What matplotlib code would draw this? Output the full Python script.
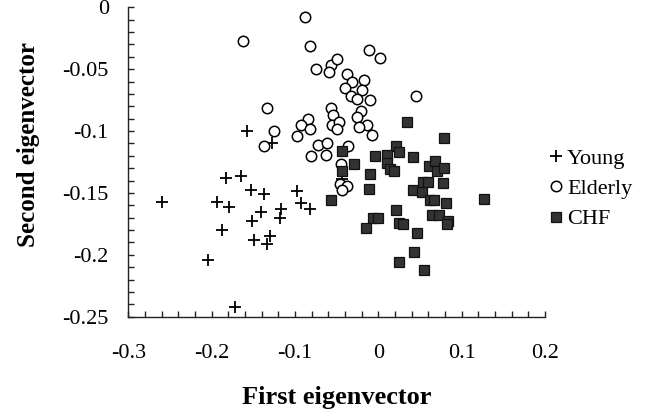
import numpy as np
import matplotlib.pyplot as plt
from matplotlib.ticker import MultipleLocator

plt.rcParams['font.family'] = ['Liberation Serif', 'DejaVu Serif']
plt.rcParams['axes.unicode_minus'] = False

# Young (plus)
young_x = [-0.158, -0.128, -0.043, -0.2596, -0.183, -0.165, -0.153, -0.137, -0.098, -0.194,
           -0.179, -0.093, -0.082, -0.117, -0.141, -0.118, -0.152, -0.1876, -0.130, -0.1495,
           -0.133, -0.204, -0.1716]
young_y = [-0.100, -0.110, -0.1385, -0.157, -0.138, -0.1366, -0.148, -0.151, -0.1487, -0.157,
           -0.161, -0.158, -0.163, -0.163, -0.165, -0.170, -0.173, -0.180, -0.1845, -0.188,
           -0.191, -0.204, -0.242]

# Elderly (open circles)
elderly_x = [-0.088, -0.162, -0.082, -0.075, -0.057, -0.059, -0.050, -0.133, -0.057, -0.054,
             -0.084, -0.093, -0.082, -0.056, -0.125, -0.137, -0.098, -0.072, -0.061, -0.081,
             -0.063, -0.037, -0.031, -0.017, -0.040, -0.019, -0.033, -0.026, -0.010, -0.011,
             0.0024, 0.045, -0.021, -0.026, -0.047, -0.050, -0.014, -0.023, -0.008, -0.036,
             -0.045, -0.046, -0.037, -0.044]
elderly_y = [-0.0076, -0.027, -0.031, -0.0495, -0.0465, -0.052, -0.042, -0.0815, -0.081, -0.087,
             -0.090, -0.095, -0.098, -0.0955, -0.0998, -0.112, -0.104, -0.111, -0.110, -0.120,
             -0.119, -0.0538, -0.060, -0.059, -0.065, -0.0667, -0.0713, -0.074, -0.0748, -0.0347,
             -0.041, -0.0718, -0.084, -0.089, -0.093, -0.098, -0.0955, -0.097, -0.103, -0.112,
             -0.127, -0.143, -0.1447, -0.148]

# CHF (filled squares)
chf_x = [0.0344, 0.0785, 0.021, 0.025, 0.011, -0.004, 0.042, -0.044, -0.029, 0.011,
         0.014, 0.019, -0.044, -0.010, 0.061, 0.068, 0.070, 0.079, 0.054, 0.060,
         0.0776, 0.0417, 0.053, -0.0115, 0.0617, 0.067, 0.081, 0.127, -0.0568, 0.021,
         0.064, 0.073, 0.084, 0.083, -0.0067, -0.0004, -0.0144, 0.025, 0.030, 0.047,
         0.043, 0.0245, 0.055]
chf_y = [-0.093, -0.106, -0.112, -0.117, -0.119, -0.120, -0.121, -0.116, -0.127, -0.126,
         -0.131, -0.132, -0.1326, -0.135, -0.1285, -0.124, -0.1326, -0.130, -0.141, -0.1414,
         -0.142, -0.148, -0.149, -0.147, -0.156, -0.1554, -0.158, -0.155, -0.156, -0.164,
         -0.168, -0.1675, -0.173, -0.1755, -0.170, -0.1705, -0.178, -0.174, -0.175, -0.182,
         -0.198, -0.206, -0.212]

xticks = [-0.3, -0.2, -0.1, 0, 0.1, 0.2]
xticklabels = ['-0.3', '-0.2', '-0.1', '0', '0.1', '0.2']
yticks = [0, -0.05, -0.1, -0.15, -0.2, -0.25]
yticklabels = ['0', '-0.05', '-0.1', '-0.15', '-0.2', '-0.25']

fig = plt.figure(figsize=(6.66, 4.12), dpi=100)
ax = fig.add_axes([0.1926, 0.2313, 0.6257, 0.7510])

ax.plot(young_x, young_y, '+', color='black', markersize=9, markeredgewidth=1.3, label='Young')
ax.plot(elderly_x, elderly_y, 'o', markerfacecolor='white', markeredgecolor='black',
        markersize=7.5, markeredgewidth=1.1, label='Elderly')
ax.plot(chf_x, chf_y, 's', markerfacecolor='#333333', markeredgecolor='#111111',
        markersize=6.5, markeredgewidth=0.9, label='CHF')

ax.set_xlim(-0.3, 0.2)
ax.set_ylim(-0.25, 0)
ax.set_xticks(xticks)
ax.set_xticklabels(xticklabels)
ax.set_yticks(yticks)
ax.set_yticklabels(yticklabels)
ax.xaxis.set_minor_locator(MultipleLocator(0.02))
ax.yaxis.set_minor_locator(MultipleLocator(0.01))

for s in ['top', 'right']:
    ax.spines[s].set_visible(False)
for s in ['left', 'bottom']:
    ax.spines[s].set_linewidth(1.0)
    ax.spines[s].set_color('#222222')

ax.tick_params(which='both', direction='in', length=4, width=1, color='#222222')
ax.tick_params(axis='x', which='major', pad=20, labelsize=16)
ax.tick_params(axis='y', which='major', pad=14, labelsize=16)

ax.set_xlabel('First eigenvector', fontsize=19, fontweight='bold')
ax.set_ylabel('Second eigenvector', fontsize=18, fontweight='bold')
ax.xaxis.set_label_coords(0.5, -0.225)
ax.yaxis.set_label_coords(-0.212, 0.555)

ax.legend(loc='center left', bbox_to_anchor=(1.010, 0.413), frameon=False, fontsize=16,
          handlelength=0.6, handletextpad=0.2, labelspacing=0.43, borderpad=0,
          borderaxespad=0)

fig.savefig('out.png', dpi=100)
